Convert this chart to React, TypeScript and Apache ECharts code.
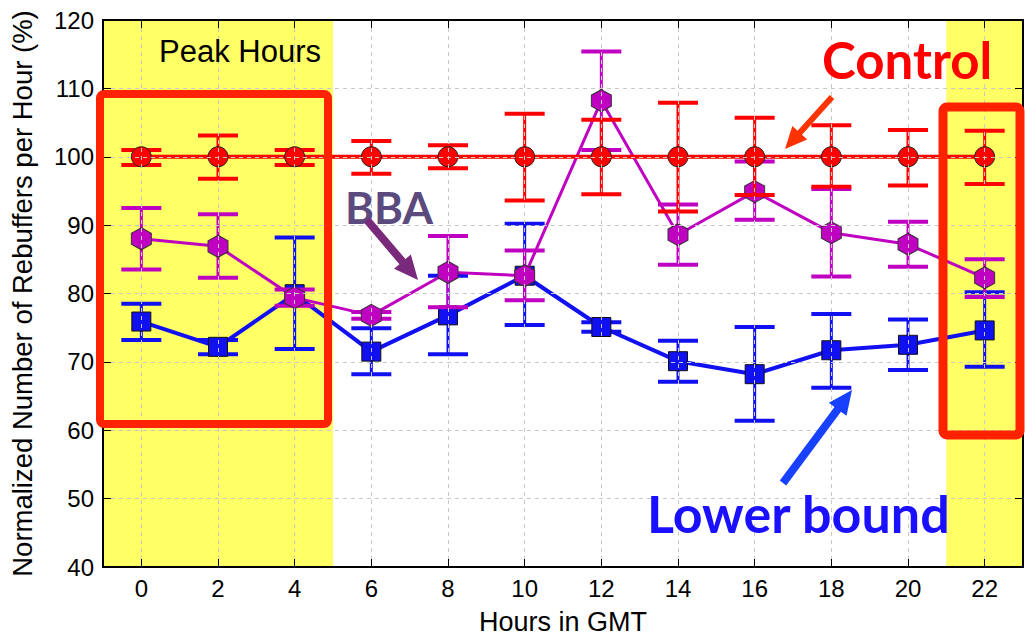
import React, { useEffect, useRef } from "react";
import * as echarts from "echarts";

// ---------- data ----------
const AXIS_CATEGORIES = ["-1", "0", "1", "2", "3", "4", "5", "6", "7", "8", "9", "10", "11", "12", "13", "14", "15", "16", "17", "18", "19", "20", "21", "22", "23"];
const HOURS = ["0", "2", "4", "6", "8", "10", "12", "14", "16", "18", "20", "22"];

const CONTROL = [100, 100, 100, 100, 100, 100, 100, 100, 100, 100, 100, 100];
const CONTROL_LO = [98.8, 96.8, 98.8, 97.5, 98.3, 93.6, 94.5, 92.0, 94.4, 95.6, 95.8, 96.0];
const CONTROL_HI = [101.0, 103.1, 101.0, 102.3, 101.7, 106.3, 105.4, 107.9, 105.7, 104.6, 103.9, 103.8];

const BBA = [88.0, 86.9, 79.4, 76.8, 83.1, 82.6, 108.2, 88.6, 94.9, 88.9, 87.2, 82.3];
const BBA_LO = [83.5, 82.3, 78.2, 76.3, 78.0, 79.0, 101.0, 84.2, 90.8, 82.5, 83.9, 79.5];
const BBA_HI = [92.5, 91.6, 80.6, 77.3, 88.4, 86.3, 115.4, 93.0, 99.3, 95.3, 90.5, 85.0];

const LOWER = [75.9, 72.2, 79.9, 71.5, 76.8, 82.6, 75.1, 70.1, 68.2, 71.7, 72.5, 74.6];
const LOWER_LO = [73.2, 71.1, 71.9, 68.2, 71.1, 75.4, 74.4, 67.1, 61.4, 66.2, 68.8, 69.3];
const LOWER_HI = [78.5, 73.2, 88.2, 74.9, 82.6, 90.2, 75.8, 73.1, 75.1, 77.0, 76.2, 80.2];

const PEAK_RANGES = [["-1", "5"], ["21", "23"]];
const Y_MIN = 40;
const Y_MAX = 120;
const Y_STEP = 10;

// ---------- styles ----------
const FONT = "Liberation Sans, Arial, sans-serif";
const BOLD_FONT = "Lato, Open Sans, sans-serif";
const C_RED = "#ff0000";
const C_PURPLE = "#c000c0";
const C_BLUE = "#1010f0";
const HEX = "path://M0,-11 L9.5,-5.5 L9.5,5.5 L0,11 L-9.5,5.5 L-9.5,-5.5 Z";

const showHour = (_i: number, v: string) => {
  const n = Number(v);
  return n >= 0 && n <= 22 && n % 2 === 0;
};

function errorSeries(name: string, lo: number[], hi: number[], color: string, z: number) {
  return {
    type: "custom",
    name,
    z,
    silent: true,
    encode: { x: 0, y: [1, 2] },
    data: HOURS.map((h, i) => [h, lo[i], hi[i]]),
    renderItem: (_p: any, api: any) => {
      const x = api.value(0);
      const pLo = api.coord([x, api.value(1)]);
      const pHi = api.coord([x, api.value(2)]);
      const half = 20;
      return {
        type: "group",
        children: [
          { type: "line", shape: { x1: pLo[0], y1: pLo[1], x2: pHi[0], y2: pHi[1] }, style: { stroke: color, lineWidth: 3 } },
          { type: "line", shape: { x1: pLo[0] - half, y1: pLo[1], x2: pLo[0] + half, y2: pLo[1] }, style: { stroke: color, lineWidth: 4 } },
          { type: "line", shape: { x1: pHi[0] - half, y1: pHi[1], x2: pHi[0] + half, y2: pHi[1] }, style: { stroke: color, lineWidth: 4 } },
        ],
      };
    },
  };
}

function arrowPoints(x1: number, y1: number, x2: number, y2: number, shaft: number, headLen: number, headW: number) {
  const dx = x2 - x1;
  const dy = y2 - y1;
  const len = Math.hypot(dx, dy);
  const ux = dx / len;
  const uy = dy / len;
  const nx = -uy;
  const ny = ux;
  const bx = x2 - ux * headLen;
  const by = y2 - uy * headLen;
  const s = shaft / 2;
  const w = headW / 2;
  return [
    [x1 + nx * s, y1 + ny * s],
    [bx + nx * s, by + ny * s],
    [bx + nx * w, by + ny * w],
    [x2, y2],
    [bx - nx * w, by - ny * w],
    [bx - nx * s, by - ny * s],
    [x1 - nx * s, y1 - ny * s],
  ];
}

export default function App() {
  const ref = useRef<HTMLDivElement>(null);

  useEffect(() => {
    if (!ref.current) return;
    const chart = echarts.init(ref.current, undefined, { renderer: "svg" });

    const gridLine = { show: true, lineStyle: { type: [4, 4], color: "#c8c8c8", width: 1 } };

    const option: any = {
      animation: false,
      backgroundColor: "#ffffff",
      grid: { left: 103, right: 2, top: 20, bottom: 67, containLabel: false },
      xAxis: [
        {
          type: "category",
          data: AXIS_CATEGORIES,
          boundaryGap: false,
          position: "bottom",
          z: 10,
          axisLine: { show: true, lineStyle: { color: "#000", width: 2 } },
          axisTick: { show: true, inside: true, length: 8, interval: showHour, lineStyle: { color: "#000", width: 1 } },
          axisLabel: { interval: showHour, color: "#000", fontSize: 24, fontFamily: FONT, margin: 9 },
          splitLine: { ...gridLine, interval: showHour },
          name: "Hours in GMT",
          nameLocation: "middle",
          nameGap: 41,
          nameTextStyle: { color: "#000", fontSize: 27, fontFamily: FONT, verticalAlign: "top" },
        },
        {
          type: "category",
          data: AXIS_CATEGORIES,
          boundaryGap: false,
          position: "top",
          z: 10,
          axisLine: { show: true, lineStyle: { color: "#000", width: 2 } },
          axisTick: { show: true, inside: true, length: 8, interval: showHour, lineStyle: { color: "#000", width: 1 } },
          axisLabel: { show: false },
          splitLine: { show: false },
        },
      ],
      yAxis: [
        {
          type: "value",
          min: Y_MIN,
          max: Y_MAX,
          interval: Y_STEP,
          z: 10,
          axisLine: { show: true, lineStyle: { color: "#000", width: 2 } },
          axisTick: { show: true, inside: true, length: 8, lineStyle: { color: "#000", width: 1 } },
          axisLabel: { color: "#000", fontSize: 24, fontFamily: FONT, margin: 9 },
          splitLine: gridLine,
          name: "Normalized Number of Rebuffers per Hour (%)",
          nameLocation: "middle",
          nameGap: 67,
          nameRotate: 90,
          nameTextStyle: { color: "#000", fontSize: 27.5, fontFamily: FONT },
        },
        {
          type: "value",
          min: Y_MIN,
          max: Y_MAX,
          interval: Y_STEP,
          position: "right",
          z: 10,
          axisLine: { show: true, lineStyle: { color: "#000", width: 2 } },
          axisTick: { show: true, inside: true, length: 8, lineStyle: { color: "#000", width: 1 } },
          axisLabel: { show: false },
          splitLine: { show: false },
        },
      ],
      series: [
        {
          type: "line",
          name: "peak",
          data: [],
          silent: true,
          markArea: {
            silent: true,
            itemStyle: { color: "#ffff66", opacity: 1 },
            data: PEAK_RANGES.map(([a, b]) => [{ xAxis: a }, { xAxis: b }]),
          },
          z: 1,
        },
        errorSeries("Lower bound err", LOWER_LO, LOWER_HI, C_BLUE, 2),
        {
          type: "line",
          name: "Lower bound",
          data: HOURS.map((h, i) => [h, LOWER[i]]),
          symbol: "rect",
          symbolSize: 19,
          lineStyle: { color: C_BLUE, width: 4 },
          itemStyle: { color: C_BLUE, borderColor: "#111", borderWidth: 1 },
          z: 3,
        },
        errorSeries("BBA err", BBA_LO, BBA_HI, C_PURPLE, 4),
        {
          type: "line",
          name: "BBA",
          data: HOURS.map((h, i) => [h, BBA[i]]),
          symbol: HEX,
          symbolSize: [20, 22],
          lineStyle: { color: C_PURPLE, width: 3 },
          itemStyle: { color: C_PURPLE, borderColor: "#333", borderWidth: 1 },
          z: 5,
        },
        errorSeries("Control err", CONTROL_LO, CONTROL_HI, C_RED, 6),
        {
          type: "line",
          name: "Control",
          data: HOURS.map((h, i) => [h, CONTROL[i]]),
          symbol: "circle",
          symbolSize: 20,
          lineStyle: { color: C_RED, width: 4 },
          itemStyle: { color: C_RED, borderColor: "#222", borderWidth: 1 },
          z: 7,
        },
      ],
      graphic: [
        {
          type: "text",
          z: 50,
          style: { x: 159, y: 51, text: "Peak Hours", fill: "#000", font: `31px ${FONT}`, verticalAlign: "middle" },
        },
        {
          type: "rect",
          z: 50,
          shape: { x: 100, y: 94, width: 228, height: 330, r: 4 },
          style: { fill: "none", stroke: "#ff2200", lineWidth: 8 },
        },
        {
          type: "rect",
          z: 50,
          shape: { x: 943, y: 107, width: 77, height: 328, r: 4 },
          style: { fill: "none", stroke: "#ff2200", lineWidth: 9 },
        },
        {
          type: "text",
          z: 50,
          style: { x: 822, y: 59, text: "Control", fill: "#ff0000", font: `bold 51px ${BOLD_FONT}`, verticalAlign: "middle" },
        },
        {
          type: "polygon",
          z: 50,
          shape: { points: arrowPoints(832, 97, 785, 149, 6, 22, 20) },
          style: { fill: "#ff3300" },
        },
        {
          type: "text",
          z: 50,
          style: { x: 345, y: 207, text: "BBA", fill: "#5b4a7e", font: `bold 44px ${BOLD_FONT}`, verticalAlign: "middle" },
        },
        {
          type: "polygon",
          z: 50,
          shape: { points: arrowPoints(367, 220, 418, 280, 8, 24, 22) },
          style: { fill: "#7a2a7a" },
        },
        {
          type: "text",
          z: 50,
          style: { x: 647, y: 513, text: "Lower bound", fill: "#1a10ff", font: `bold 52px ${BOLD_FONT}`, verticalAlign: "middle" },
        },
        {
          type: "polygon",
          z: 50,
          shape: { points: arrowPoints(783, 483, 852, 390, 8, 24, 22) },
          style: { fill: "#1840ff" },
        },
      ],
    };

    chart.setOption(option);
    return () => chart.dispose();
  }, []);

  return (
    <div
      ref={ref}
      style={{ position: "absolute", left: 0, top: 0, width: 1025, height: 640, background: "#fff" }}
    />
  );
}
